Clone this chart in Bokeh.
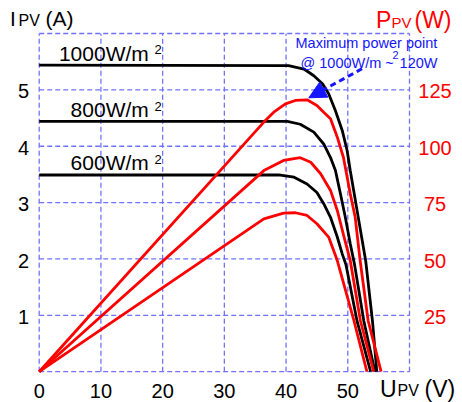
from bokeh.plotting import figure
from bokeh.models import Range1d, Label, Arrow, NormalHead
from bokeh.embed import file_html
from bokeh.resources import INLINE

# ---- data ----
V_I1000 = [0, 40.4, 42.9, 44.5, 45.9, 46.9, 48.0, 49.1, 49.9, 50.4, 51.6, 52.9, 54.0, 54.7]
I_1000 = [5.44, 5.43, 5.37, 5.25, 5.11, 4.93, 4.63, 4.28, 3.92, 3.57, 2.80, 1.97, 0.90, 0.0]

V_I800 = [0, 40.2, 42.3, 44.5, 46.1, 47.2, 48.0, 48.8, 49.6, 50.4, 51.1, 52.6, 54.4]
I_800 = [4.44, 4.44, 4.39, 4.25, 4.04, 3.80, 3.57, 3.16, 2.74, 2.27, 1.90, 0.90, 0.0]

V_I600 = [0, 38.8, 41.3, 43.4, 45.0, 46.1, 47.2, 48.3, 49.1, 49.7, 51.5, 53.7]
I_600 = [3.49, 3.49, 3.45, 3.33, 3.18, 2.98, 2.74, 2.39, 2.09, 1.90, 0.90, 0.0]

V_P1000 = [0, 36.4, 38.0, 39.9, 41.5, 43.4, 45.0, 46.1, 47.2, 48.3, 49.3, 50.4, 51.2, 52.0, 53.3, 55.4]
P_1000 = [0, 110.7, 115.1, 118.8, 120.3, 120.6, 118.1, 115.1, 112.2, 104.0, 95.0, 78.9, 68.5, 49.3, 22.6, 0]

V_P800 = [0, 36.4, 39.6, 42.3, 44.0, 45.6, 47.2, 48.3, 49.4, 50.4, 52.05, 54.2]
P_800 = [0, 89.2, 93.7, 94.9, 92.9, 87.8, 80.4, 71.5, 59.7, 49.3, 22.6, 0]

V_P600 = [0, 36.4, 39.6, 41.5, 43.4, 45.0, 46.9, 48.3, 51.0, 53.1]
P_600 = [0, 67.8, 70.3, 70.5, 69.3, 65.6, 59.7, 49.3, 22.6, 0]

X_TICKS = [0, 10, 20, 30, 40, 50]
I_TICKS = [1, 2, 3, 4, 5]
P_TICKS = [25, 50, 75, 100, 125]
X_GRID = [0, 10, 20, 30, 40, 50, 60]
Y_GRID = [0, 1, 2, 3, 4, 5, 6]
P_PER_A = 25  # right axis: 6 A <-> 150 W

CURVE_LABELS = ["1000W/m", "800W/m", "600W/m"]
CURVE_LABEL_BASE_PX = [59.3, 115.7, 169.0]

# ---- layout (pixels) ----
W, H = 462, 402
FX0, FX1, FY0, FY1 = 38.7, 409.0, 33.0, 371.2   # plot box: left, right, top, bottom
SX = (FX1 - FX0) / (X_GRID[-1] - X_GRID[0])
SY = (FY1 - FY0) / (Y_GRID[-1] - Y_GRID[0])
BASELINE_FIX = 0.32  # em: renderer draws 'alphabetic' labels this much lower


def vx(px):
    return (px - FX0) / SX


def ay(py):
    return (FY1 - py) / SY


FONT = "Liberation Sans"
BLUE = "#1515ff"
RED = "#ff0000"
GRID_C = "#7272ff"

p = figure(width=W, height=H, min_border=0,
           x_range=Range1d(vx(0), vx(W)), y_range=Range1d(ay(H), ay(0)),
           x_axis_type=None, y_axis_type=None,
           output_backend="svg", toolbar_location=None)
p.extra_y_ranges = {"power": Range1d(ay(H) * P_PER_A, ay(0) * P_PER_A)}
p.outline_line_color = None
p.background_fill_color = "white"
p.border_fill_color = "white"

# dashed grid / box
n = len(X_GRID)
m = len(Y_GRID)
p.segment(x0=X_GRID, y0=[Y_GRID[0]] * n, x1=X_GRID, y1=[Y_GRID[-1]] * n,
          line_color=GRID_C, line_width=1.3, line_dash="5 3")
p.segment(x0=[X_GRID[0]] * m, y0=Y_GRID, x1=[X_GRID[-1]] * m, y1=Y_GRID,
          line_color=GRID_C, line_width=1.3, line_dash="5 3")

# curves
LW = 2.8
p.line(V_I1000, I_1000, line_color="black", line_width=LW)
p.line(V_I800, I_800, line_color="black", line_width=LW)
p.line(V_I600, I_600, line_color="black", line_width=LW)
p.line(V_P1000, P_1000, line_color=RED, line_width=LW, y_range_name="power")
p.line(V_P800, P_800, line_color=RED, line_width=LW, y_range_name="power")
p.line(V_P600, P_600, line_color=RED, line_width=LW, y_range_name="power")


def lab_data(x, ypx, text, size, color="black", align="left"):
    """x in data units, baseline ypx in pixels."""
    p.add_layout(Label(x=x, y=ay(ypx - BASELINE_FIX * size), text=text, text_align=align,
                       text_baseline="alphabetic", text_font=FONT,
                       text_font_size=f"{size}px", text_color=color))


def lab(xpx, ypx, text, size, color="black", align="left"):
    lab_data(vx(xpx), ypx, text, size, color, align)


# tick labels (baseline 8 px below gridline)
for t in X_TICKS:
    lab_data(t, 397.0, str(t), 20, align="center")
for t in I_TICKS:
    lab(28.5, FY1 - t * SY + 8.0, str(t), 20, align="right")
for t in P_TICKS:
    lab(434.5, FY1 - t / P_PER_A * SY + 8.0, str(t), 20, color=RED, align="center")

# irradiance labels
for txt, base in zip(CURVE_LABELS, CURVE_LABEL_BASE_PX):
    lab(148.3, base, txt, 21, align="right")
    lab(154.0, base - 6.0, "2", 13)

# axis titles
lab(9.5, 25.0, "I", 21)
lab(18.0, 25.0, "PV", 16)
lab(45.0, 25.0, "(A)", 21)

lab(379.5, 395.5, "U", 23)
lab(397.0, 395.5, "PV", 16)
lab(424.0, 395.5, "(V)", 23)

lab(375.5, 26.7, "P", 23, color=RED)
lab(391.0, 26.7, "PV", 15, color=RED)
lab(414.0, 26.7, "(W)", 23, color=RED)

# maximum power point annotation
lab(295.0, 46.7, "Maximum power point", 14.5, color=BLUE)
lab(300.0, 66.7, "@ 1000W/m ~", 14.5, color=BLUE)
lab(392.0, 58.0, "2", 11, color=BLUE)
lab(437.0, 66.7, "120W", 14.5, color=BLUE, align="right")

p.add_layout(Arrow(end=NormalHead(size=17, fill_color=BLUE, line_color=BLUE),
                   x_start=vx(361.5), y_start=ay(68.3), x_end=vx(308.3), y_end=ay(97.3),
                   line_color=BLUE, line_width=3, line_dash="6 4"))

open("out.html", "w").write(file_html(p, INLINE))
